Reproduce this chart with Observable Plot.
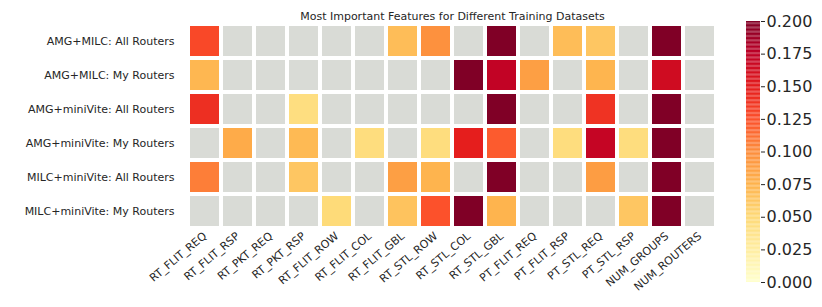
<!DOCTYPE html>
<html><head><meta charset="utf-8">
<script src="https://cdn.jsdelivr.net/npm/d3@7"></script>
<script src="https://cdn.jsdelivr.net/npm/@observablehq/plot@0.6"></script>
<style>
body{margin:0;background:#fff;}
#wrap{position:relative;width:822px;height:307px;font-family:"DejaVu Sans",sans-serif;}
#wrap svg{position:absolute;top:0;}
</style></head><body><div id="wrap"></div>
<script>
const titleText = "Most Important Features for Different Training Datasets";
const features = ["RT_FLIT_REQ","RT_FLIT_RSP","RT_PKT_REQ","RT_PKT_RSP","RT_FLIT_ROW","RT_FLIT_COL","RT_FLIT_GBL","RT_STL_ROW","RT_STL_COL","RT_STL_GBL","PT_FLIT_REQ","PT_FLIT_RSP","PT_STL_REQ","PT_STL_RSP","NUM_GROUPS","NUM_ROUTERS"];
const datasets = ["AMG+MILC: All Routers","AMG+MILC: My Routers","AMG+miniVite: All Routers","AMG+miniVite: My Routers","MILC+miniVite: All Routers","MILC+miniVite: My Routers"];
// importance per feature (null = feature not selected, drawn grey)
const amgMilcAll      = [0.128, null, null, null,  null,  null,  0.068, 0.097, null,  0.25,  null,  0.068, 0.062, null,  0.25,  null];
const amgMilcMy       = [0.072, null, null, null,  null,  null,  null,  null,  0.23,  0.172, 0.088, null,  0.073, null,  0.163, null];
const amgMiniViteAll  = [0.140, null, null, 0.044, null,  null,  null,  null,  null,  0.24,  null,  null,  0.138, null,  0.26,  null];
const amgMiniViteMy   = [null,  0.08, null, 0.070, null,  0.045, null,  0.045, 0.148, 0.120, null,  0.045, 0.170, 0.045, 0.23,  null];
const milcMiniViteAll = [0.106, null, null, 0.062, null,  null,  0.088, 0.074, null,  0.25,  null,  null,  0.089, null,  0.26,  null];
const milcMiniViteMy  = [null,  null, null, null,  0.048, null,  0.064, 0.124, 0.22,  0.074, null,  null,  null,  0.062, 0.24,  null];
const colorTicks = [0, 0.025, 0.05, 0.075, 0.1, 0.125, 0.15, 0.175, 0.2];
const ylorrd = ["#ffffcc","#ffeda0","#fed976","#feb24c","#fd8d3c","#fc4e2a","#e31a1c","#bd0026","#800026"];

const rows = [amgMilcAll, amgMilcMy, amgMiniViteAll, amgMiniViteMy, milcMiniViteAll, milcMiniViteMy];
const table = [];
rows.forEach((vals, i) => vals.forEach((v, j) => table.push({dataset: datasets[i], feature: features[j], value: v})));

const color = {type: "linear", domain: colorTicks, range: ylorrd, interpolate: "rgb", clamp: true};
const wrap = document.getElementById("wrap");

const main = Plot.plot({
  width: 822, height: 307,
  marginLeft: 181, marginRight: 99, marginTop: 24, marginBottom: 79,
  style: {fontFamily: "DejaVu Sans", fontSize: "11px", color: "#262626", background: "transparent", overflow: "visible"},
  x: {domain: features, padding: 0, label: null, tickSize: 0, tickRotate: -40, tickPadding: 6},
  y: {domain: datasets, padding: 0, label: null, tickSize: 0, tickPadding: 7},
  color,
  marks: [
    Plot.cell(table, {x: "feature", y: "dataset", fill: "#d9dbd6", inset: 2}),
    Plot.cell(table.filter(d => d.value != null), {x: "feature", y: "dataset", fill: "value", inset: 2}),
    Plot.text([titleText], {frameAnchor: "top", lineAnchor: "bottom", dy: -5, text: d => d, fontSize: 11, fill: "#262626"})
  ]
});
main.style.left = "0px";
wrap.appendChild(main);

const grad = d3.range(0, 0.2, 0.001).map(v => ({v0: v, v1: v + 0.001}));
const bar = Plot.plot({
  width: 82, height: 307,
  marginLeft: 6, marginRight: 62, marginTop: 21, marginBottom: 25,
  style: {fontFamily: "DejaVu Sans", fontSize: "16px", color: "#262626", background: "transparent", overflow: "visible"},
  x: {domain: [0, 1], axis: null},
  y: {domain: [0, 0.2], axis: "right", ticks: colorTicks, tickFormat: d3.format(".3f"), tickSize: 4, tickPadding: 2, label: null},
  color,
  marks: [
    Plot.rect(grad, {x1: 0, x2: 1, y1: "v0", y2: "v1", fill: "v0"})
  ]
});
bar.style.left = "740px";
wrap.appendChild(bar);
</script></body></html>
